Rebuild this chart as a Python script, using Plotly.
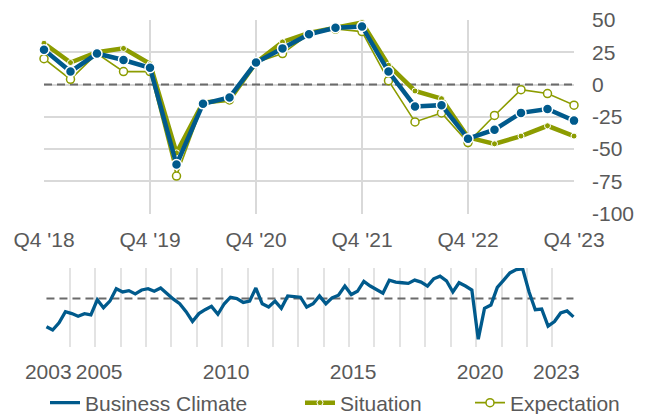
import plotly.graph_objects as go

# ---------------- data ----------------
top_quarters = ["Q4 '18", "Q1 '19", "Q2 '19", "Q3 '19", "Q4 '19", "Q1 '20", "Q2 '20",
                "Q3 '20", "Q4 '20", "Q1 '21", "Q2 '21", "Q3 '21", "Q4 '21", "Q1 '22",
                "Q2 '22", "Q3 '22", "Q4 '22", "Q1 '23", "Q2 '23", "Q3 '23", "Q4 '23"]
top_tick_labels = ["Q4 '18", "Q4 '19", "Q4 '20", "Q4 '21", "Q4 '22", "Q4 '23"]

situation = [32, 17, 25, 28, 16, -53, -14, -12, 17, 33, 40, 44, 48, 15, -5, -11,
             -41, -46, -40, -32, -40]
expectation = [20, 4, 24, 10, 10, -71, -15, -12, 17, 24, 39, 43, 41, 3, -29, -22,
               -45, -24, -4, -7, -16]

history_years = list(range(2003, 2024))
# Business Climate, quarterly Q1 2003 ... Q4 2023
business_climate = [
    -43, -48, -37, -20,   # 2003
    -23, -27, -23, -25,   # 2004
    -2, -14, -4, 15,      # 2005
    10, 12, 7, 13,        # 2006
    15, 11, 16, 7,        # 2007
    -1, -8, -20, -35,     # 2008
    -23, -17, -12, -24,   # 2009
    -8, 2, 0, -6,         # 2010
    -4, 16, -8, -13,      # 2011
    -4, -15, 4, 3,        # 2012
    2, -13, -8, 4,        # 2013
    -8, 1, 5, 19,         # 2014
    6, 11, 26, 19,        # 2015
    13, 8, 28, 25,        # 2016
    24, 23, 28, 25,       # 2017
    19, 30, 34, 27,       # 2018
    10, 24, 19, 13,       # 2019
    -62, -15, -10, 17,    # 2020
    28, 39, 44, 45,       # 2021
    10, -17, -16, -42,    # 2022
    -35, -22, -19, -28,   # 2023
]
business_climate_top = business_climate[-len(top_quarters):]

history_dates = [f"{y}-{m:02d}-01" for y in history_years for m in (2, 5, 8, 11)]
labelled_years = [2003, 2005, 2010, 2015, 2020, 2023]
grid_years = list(range(2003, 2025))

top_yticks = [50, 25, 0, -25, -50, -75, -100]
top_yticklabels = ["50", "25", "0", "-25", "-50", "-75", "-100"]

# ---------------- style ----------------
BLUE = "#005A8C"
GREEN = "#8C9C00"
GRID = "#D9D9D9"
TEXT = "#595959"
DASH = "#6B6B6B"
FONT = "Liberation Sans, Arial, sans-serif"
FS = 21

fig = go.Figure()

# top chart
fig.add_trace(go.Scatter(x=[top_quarters[0], top_quarters[-1]], y=[0, 0], mode="lines",
                         line=dict(color=DASH, width=2, dash="8px,5px"),
                         xaxis="x", yaxis="y", showlegend=False, hoverinfo="skip"))
fig.add_trace(go.Scatter(x=top_quarters, y=expectation, mode="lines+markers", name="Expectation",
                         line=dict(color=GREEN, width=1.6),
                         marker=dict(symbol="circle", size=8, color="white",
                                     line=dict(color=GREEN, width=1.5)),
                         cliponaxis=False,
                         xaxis="x", yaxis="y", legend="legend3"))
fig.add_trace(go.Scatter(x=top_quarters, y=situation, mode="lines+markers", name="Situation",
                         line=dict(color=GREEN, width=4.5),
                         marker=dict(symbol="circle", size=6, color=GREEN,
                                     line=dict(color="white", width=1)),
                         cliponaxis=False,
                         xaxis="x", yaxis="y", legend="legend2"))
fig.add_trace(go.Scatter(x=top_quarters, y=business_climate_top, mode="lines+markers",
                         name="Business Climate",
                         line=dict(color=BLUE, width=4.5),
                         marker=dict(symbol="circle", size=10, color=BLUE,
                                     line=dict(color="white", width=1.5)),
                         cliponaxis=False,
                         xaxis="x", yaxis="y", showlegend=False))

# bottom chart
fig.add_trace(go.Scatter(x=[history_dates[0], history_dates[-1]], y=[0, 0], mode="lines",
                         line=dict(color=DASH, width=2, dash="8px,5px"),
                         xaxis="x2", yaxis="y2", showlegend=False, hoverinfo="skip"))
fig.add_trace(go.Scatter(x=history_dates, y=business_climate, mode="lines", name="Business Climate",
                         line=dict(color=BLUE, width=3.3), cliponaxis=False,
                         xaxis="x2", yaxis="y2", legend="legend"))

W, H = 646, 414

fig.update_layout(
    width=W, height=H,
    margin=dict(l=0, r=0, t=0, b=0, autoexpand=False),
    paper_bgcolor="white", plot_bgcolor="white",
    font=dict(family=FONT, size=FS, color=TEXT),
    xaxis=dict(domain=[44 / W, 574 / W], anchor="y", type="category",
               categoryorder="array", categoryarray=top_quarters,
               range=[0, len(top_quarters) - 1],
               tickmode="array", tickvals=top_tick_labels, ticktext=top_tick_labels,
               showgrid=True, gridcolor=GRID, gridwidth=1.5, zeroline=False, showline=False,
               ticks="", ticklabelstandoff=11, automargin=False,
               tickfont=dict(family=FONT, size=FS, color=TEXT)),
    yaxis=dict(domain=[1 - 213.5 / H, 1 - 20 / H], anchor="x", side="right",
               range=[-100, 50], tickmode="array", tickvals=top_yticks, ticktext=top_yticklabels,
               showgrid=True, gridcolor=GRID, gridwidth=1.5, zeroline=False, showline=False,
               ticks="", ticklabelstandoff=17, automargin=False,
               tickfont=dict(family=FONT, size=FS, color=TEXT)),
    xaxis2=dict(domain=[44.3 / W, 577.7 / W], anchor="y2", type="date",
                range=["2003-01-01", "2024-01-01"],
                tickmode="array", tickvals=[f"{y}-01-01" for y in grid_years],
                ticktext=[str(y) if y in labelled_years else "" for y in grid_years],
                showgrid=True, gridcolor="#E3E3E3", gridwidth=2, zeroline=False, showline=False,
                ticks="", ticklabelstandoff=10, ticklabelshift=4, automargin=False,
                tickfont=dict(family=FONT, size=FS, color=TEXT)),
    yaxis2=dict(domain=[1 - 347 / H, 1 - 268 / H], anchor="x2", range=[-73.9, 46.5],
                showgrid=False, zeroline=False, showline=False, showticklabels=False,
                ticks="", automargin=False),
    showlegend=True,
)

legend_common = dict(orientation="h", yanchor="middle", y=1 - 403 / H, xanchor="left",
                     bgcolor="rgba(0,0,0,0)", borderwidth=0,
                     font=dict(family=FONT, size=FS, color=TEXT))
fig.update_layout(
    legend=dict(x=45 / W, **legend_common),
    legend2=dict(x=300 / W, **legend_common),
    legend3=dict(x=470 / W, **legend_common),
)

fig.write_html("out.html")
